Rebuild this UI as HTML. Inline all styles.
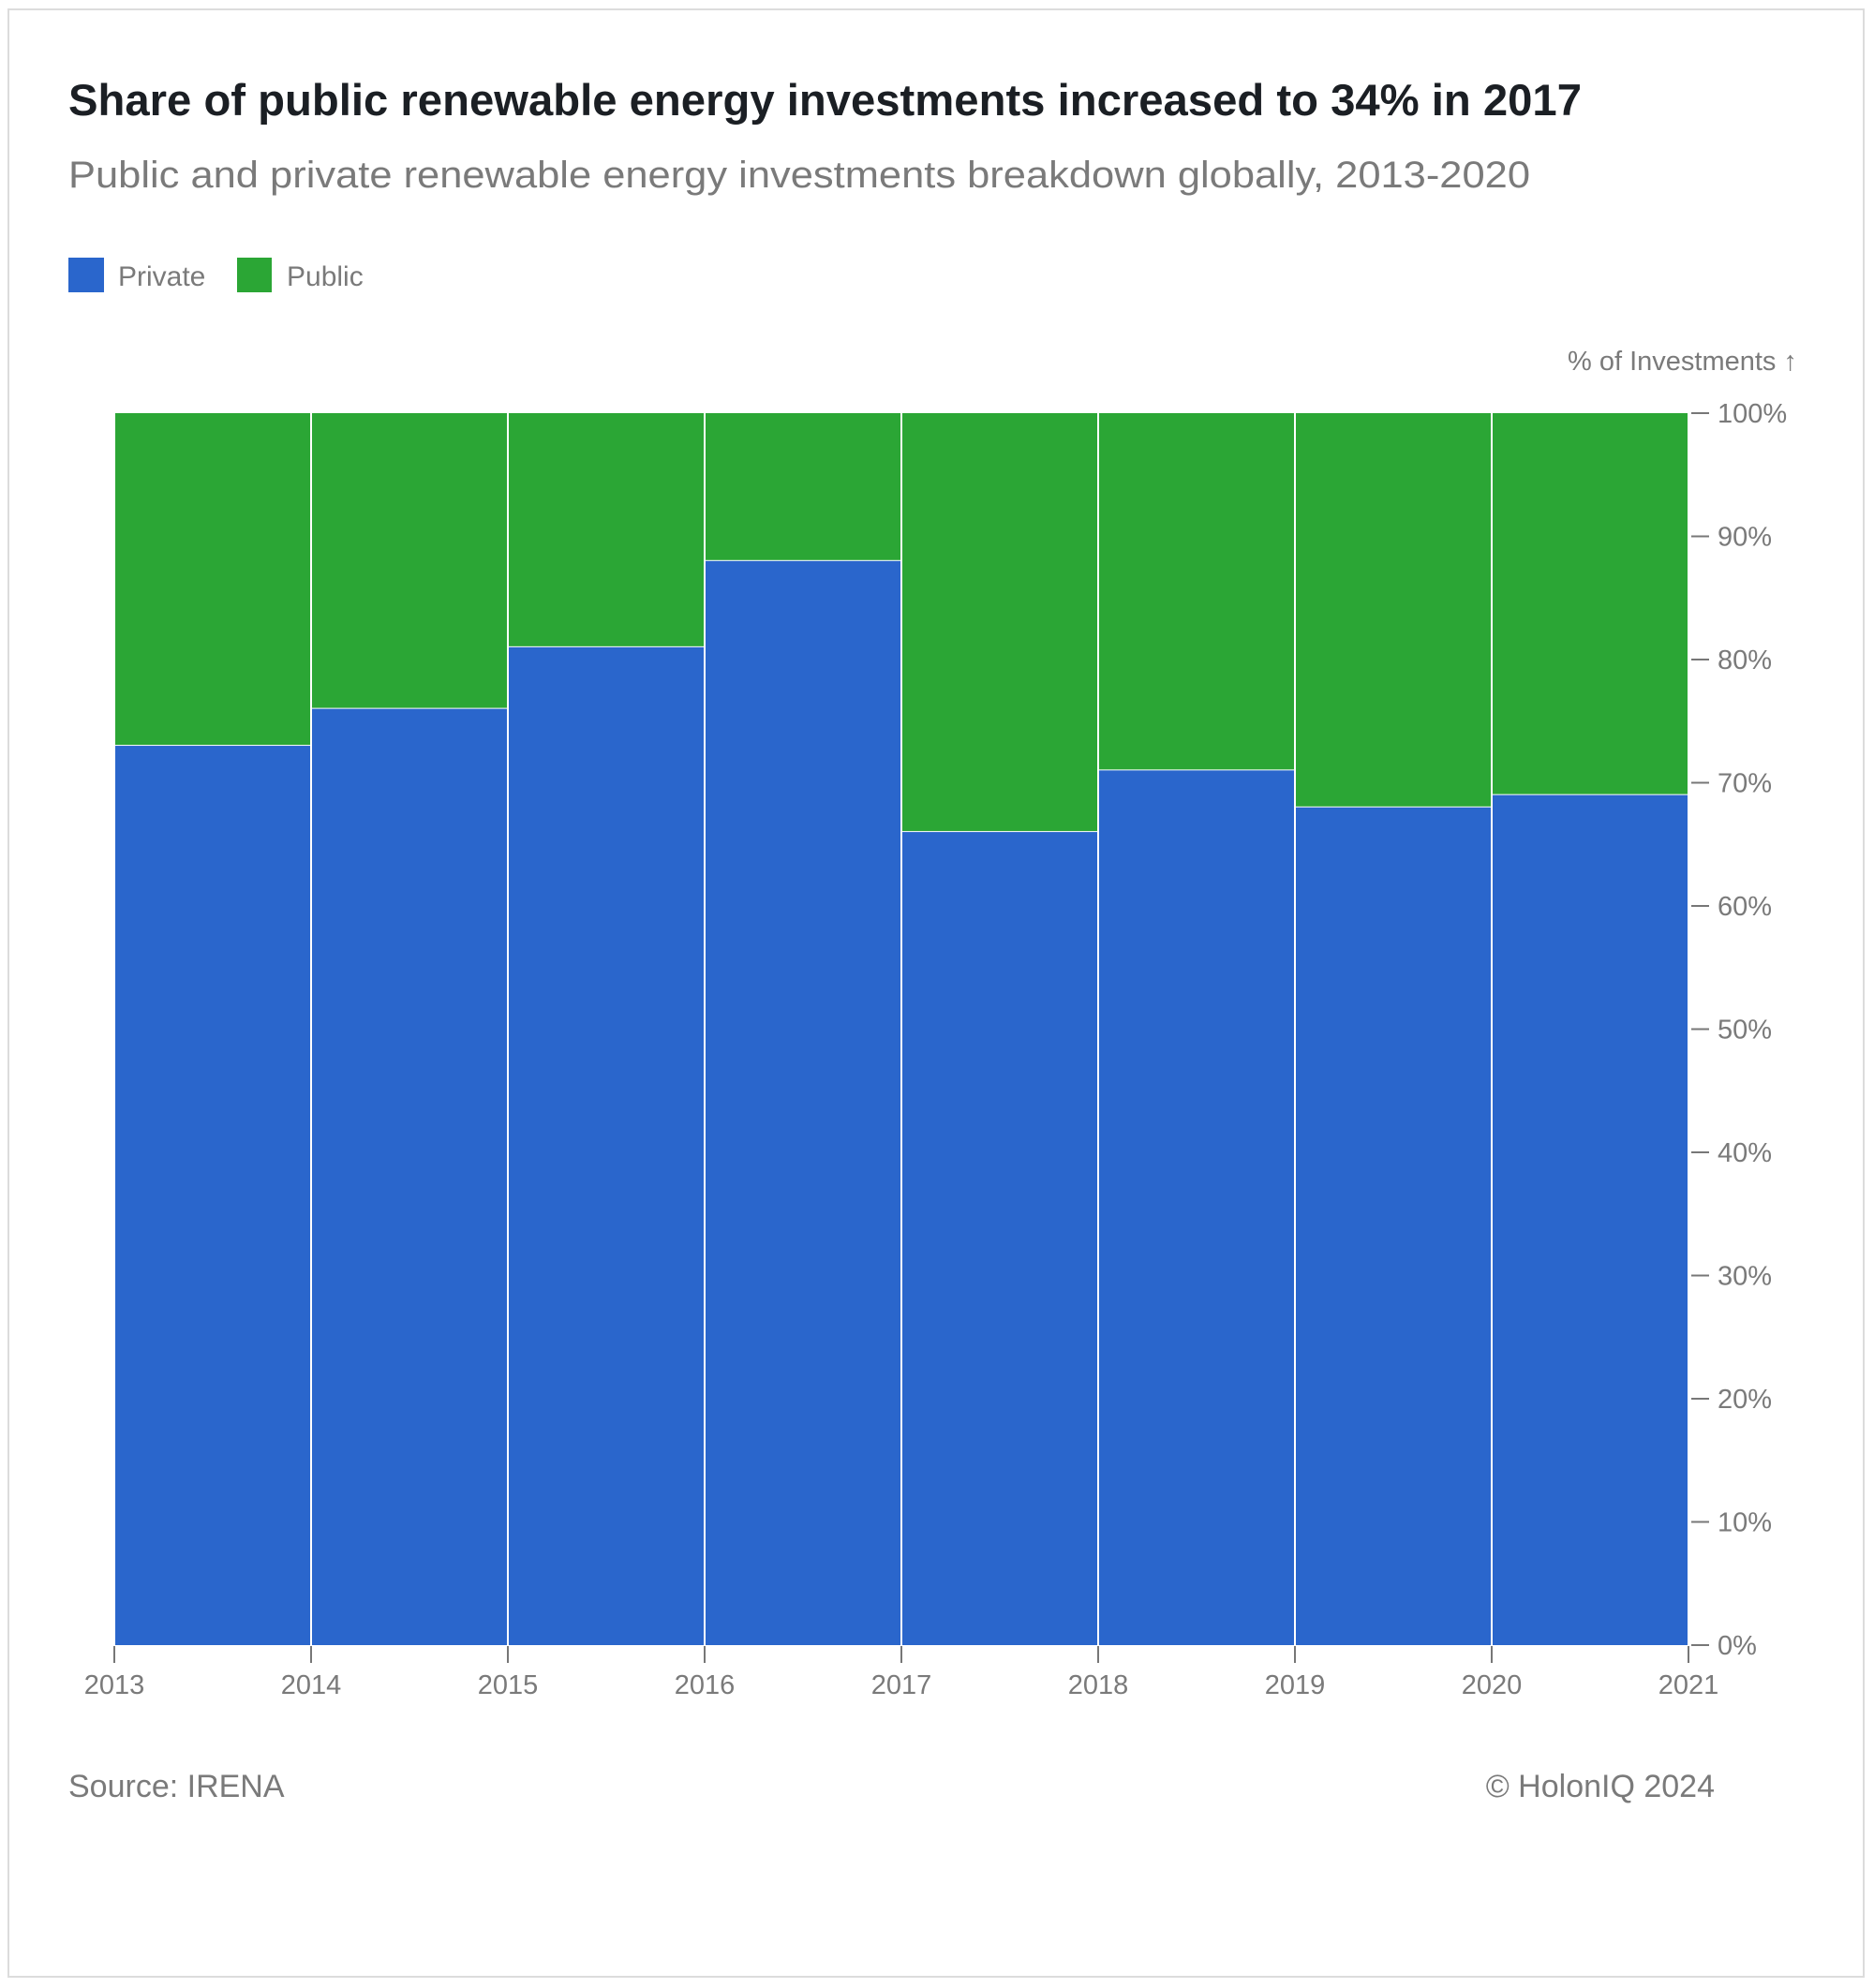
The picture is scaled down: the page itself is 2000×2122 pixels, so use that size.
<!DOCTYPE html>
<html><head><meta charset="utf-8">
<style>
html,body{margin:0;padding:0;background:#fff;}
body{width:2000px;height:2122px;position:relative;overflow:hidden;font-family:"Liberation Sans",sans-serif;}
#frame{position:absolute;left:8px;top:9px;width:1982px;height:2102px;border:2px solid #dcdcdc;box-sizing:border-box;}
</style></head><body>
<div id="frame"></div>
<svg id="chart" width="2000" height="2122" style="position:absolute;left:0;top:0">
<text x="73" y="123" font-size="47" font-weight="bold" fill="#1b1f24" font-family="Liberation Sans, sans-serif" textLength="1615" lengthAdjust="spacingAndGlyphs">Share of public renewable energy investments increased to 34% in 2017</text>
<text x="73" y="200" font-size="40" fill="#7a7a7a" textLength="1560" lengthAdjust="spacingAndGlyphs">Public and private renewable energy investments breakdown globally, 2013-2020</text>
<g>
<rect x="73" y="275" width="38" height="37" fill="#2a66cc"/>
<text x="126" y="305" font-size="30" fill="#7a7a7a">Private</text>
<rect x="253" y="275" width="37" height="37" fill="#2ba635"/>
<text x="306" y="305" font-size="30" fill="#7a7a7a">Public</text>
</g>
<text x="1918" y="395" font-size="29" fill="#7a7a7a" text-anchor="end">% of Investments ↑</text>
<g id="bars"></g>
<g id="axes"></g>
<text x="73" y="1918" font-size="34" fill="#7a7a7a">Source: IRENA</text>
<text x="1830" y="1918" font-size="34" fill="#7a7a7a" text-anchor="end">© HolonIQ 2024</text>
</svg>
<script>
const years = [2013,2014,2015,2016,2017,2018,2019,2020];
const privateShare = [73,76,81,88,66,71,68,69];
const publicShare = [27,24,19,12,34,29,32,31];
const xTickLabels = ["2013","2014","2015","2016","2017","2018","2019","2020","2021"];
const yTicks = [0,10,20,30,40,50,60,70,80,90,100];

const NS="http://www.w3.org/2000/svg";
const X0=122, X1=1802, Y0=1756, Y1=441;
const xScale = i => X0 + (X1-X0)*i/years.length;
const yScale = v => Y0 - (Y0-Y1)*v/100;
const bars=document.getElementById('bars'), axes=document.getElementById('axes');
function mk(tag, attrs){const e=document.createElementNS(NS,tag);for(const k in attrs)e.setAttribute(k,attrs[k]);return e;}
years.forEach((y,i)=>{
  const xa=xScale(i), xb=xScale(i+1);
  const p=mk('rect',{x:xa+1,y:yScale(privateShare[i]),width:xb-xa-2,height:yScale(0)-yScale(privateShare[i]),fill:'#2a66cc'});
  
  
  bars.appendChild(p);
  const top=privateShare[i]+publicShare[i];
  const g=mk('rect',{x:xa+1,y:yScale(top),width:xb-xa-2,height:yScale(privateShare[i])-yScale(top)-1,fill:'#2ba635'});
  
  
  bars.appendChild(g);
});
xTickLabels.forEach((t,i)=>{
  const x=xScale(i);
  const l=mk('line',{x1:x,x2:x,y1:Y0+1,y2:Y0+19,stroke:'#777','stroke-width':2});
  
  
  axes.appendChild(l);
  const tx=mk('text',{x:x,y:1808,'font-size':29,fill:'#7a7a7a','text-anchor':'middle'});
  tx.textContent=t;
  
  
  axes.appendChild(tx);
});
yTicks.forEach(v=>{
  const y=yScale(v);
  const l=mk('line',{x1:X1+3,x2:X1+22,y1:y,y2:y,stroke:'#777','stroke-width':2});
  
  
  axes.appendChild(l);
  const tx=mk('text',{x:1833,y:y+10,'font-size':29,fill:'#7a7a7a'});
  tx.textContent=v+'%';
  
  
  axes.appendChild(tx);
});
</script>
</body></html>
